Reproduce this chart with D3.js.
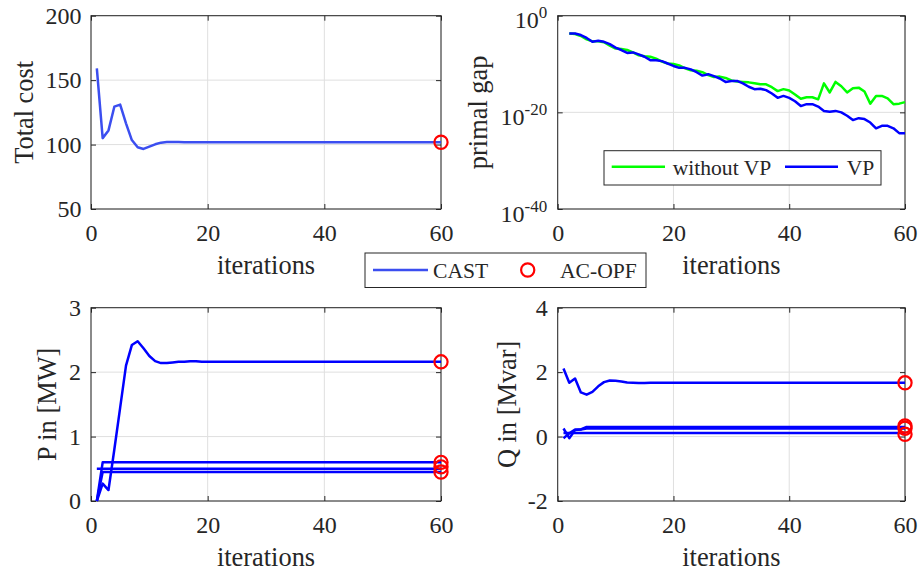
<!DOCTYPE html>
<html>
<head>
<meta charset="utf-8">
<script src="https://cdn.jsdelivr.net/npm/d3@7"></script>
<style>
  body { margin: 0; background: #fff; }
  svg { display: block; }
  text { font-family: "Liberation Serif", "Times New Roman", serif; fill: #262626; }
</style>
</head>
<body>
<svg id="fig" width="923" height="576"></svg>
<script>
// ---------- data ----------
const iterations = d3.range(1, 61);            // iteration index 1..60
const gapIterations = d3.range(2, 61);         // primal gap is logged from iteration 2
const xTicks = [0, 20, 40, 60];

// total cost of the CAST iterates
const totalCost = [
  159.2, 105.0, 111.0, 129.4, 131.0, 116.5, 103.5, 97.9, 96.6, 98.4,
  100.2, 101.5, 101.9, 102.0, 101.9, 101.8, 101.8, 101.8, 101.8, 101.8,
  101.8, 101.8, 101.8, 101.8, 101.8, 101.8, 101.8, 101.8, 101.8, 101.8,
  101.8, 101.8, 101.8, 101.8, 101.8, 101.8, 101.8, 101.8, 101.8, 101.8,
  101.8, 101.8, 101.8, 101.8, 101.8, 101.8, 101.8, 101.8, 101.8, 101.8,
  101.8, 101.8, 101.8, 101.8, 101.8, 101.8, 101.8, 101.8, 101.8, 101.8
];
const costOPF = [101.8];
const costTicks = [50, 100, 150, 200];

// primal gap, iterations 2..60
const gapNoVP = [
  2.0e-4, 1.6e-4, 6.3e-5, 1.3e-5, 5.0e-6, 5.0e-6, 3.2e-6, 6.3e-7, 1.6e-7,
  1.3e-7, 7.9e-8, 2.5e-8, 6.3e-9, 4.0e-9, 3.2e-9, 1.3e-9, 3.2e-10, 1.3e-10, 1.0e-10,
  5.0e-11, 1.3e-11, 5.0e-12, 4.0e-12, 2.0e-12, 5.0e-13, 2.0e-13, 2.5e-13, 1.3e-13, 4.0e-14,
  2.5e-14, 2.0e-14, 1.6e-14, 1.0e-14, 6.3e-15, 6.3e-15, 1.6e-15, 2.5e-16, 6.3e-16, 3.2e-16,
  5.0e-17, 6.3e-18, 1.3e-17, 1.3e-17, 5.0e-18, 1.0e-14, 1.3e-16, 2.0e-14, 2.5e-15, 1.3e-16,
  1.0e-15, 1.3e-15, 2.0e-16, 6.3e-19, 2.5e-17, 2.5e-17, 7.9e-18, 5.0e-19, 6.3e-19, 1.3e-18
];
const gapVP = [
  2.0e-4, 2.0e-4, 1.0e-4, 2.5e-5, 4.0e-6, 6.3e-6, 4.0e-6, 1.3e-6, 2.5e-7,
  7.9e-8, 2.0e-8, 2.5e-8, 1.0e-8, 3.2e-9, 6.3e-10, 6.3e-10, 4.0e-10, 1.3e-10, 4.0e-11,
  1.6e-11, 1.6e-11, 7.9e-12, 2.0e-12, 4.0e-13, 7.9e-13, 3.2e-13, 1.0e-13, 2.0e-14, 3.2e-14,
  3.2e-14, 1.0e-14, 2.0e-15, 6.3e-16, 7.9e-16, 4.0e-16, 7.9e-17, 1.0e-17, 2.5e-17, 1.0e-17,
  2.0e-18, 2.0e-19, 5.0e-19, 5.0e-19, 1.6e-19, 2.0e-20, 1.3e-20, 2.0e-20, 1.0e-20, 2.0e-21,
  2.5e-22, 6.3e-22, 4.0e-22, 7.9e-23, 5.0e-24, 1.6e-23, 1.6e-23, 5.0e-24, 5.0e-25, 5.0e-25
];
const gapTicks = [1e-40, 1e-20, 1e0];
const gapTickExponents = ["-40", "-20", "0"];

// active power injections [MW]
const pGen1 = [
  0.00, 0.27, 0.17, 0.80, 1.45, 2.10, 2.42, 2.48, 2.37, 2.25,
  2.17, 2.14, 2.14, 2.15, 2.16, 2.16, 2.17, 2.17, 2.16, 2.16,
  2.16, 2.16, 2.16, 2.16, 2.16, 2.16, 2.16, 2.16, 2.16, 2.16,
  2.16, 2.16, 2.16, 2.16, 2.16, 2.16, 2.16, 2.16, 2.16, 2.16,
  2.16, 2.16, 2.16, 2.16, 2.16, 2.16, 2.16, 2.16, 2.16, 2.16,
  2.16, 2.16, 2.16, 2.16, 2.16, 2.16, 2.16, 2.16, 2.16, 2.16
];
const pGen2 = [
  0.00, 0.60, 0.60, 0.60, 0.60, 0.60, 0.60, 0.60, 0.60, 0.60,
  0.60, 0.60, 0.60, 0.60, 0.60, 0.60, 0.60, 0.60, 0.60, 0.60,
  0.60, 0.60, 0.60, 0.60, 0.60, 0.60, 0.60, 0.60, 0.60, 0.60,
  0.60, 0.60, 0.60, 0.60, 0.60, 0.60, 0.60, 0.60, 0.60, 0.60,
  0.60, 0.60, 0.60, 0.60, 0.60, 0.60, 0.60, 0.60, 0.60, 0.60,
  0.60, 0.60, 0.60, 0.60, 0.60, 0.60, 0.60, 0.60, 0.60, 0.60
];
const pGen3 = [
  0.50, 0.50, 0.50, 0.50, 0.50, 0.50, 0.50, 0.50, 0.50, 0.50,
  0.50, 0.50, 0.50, 0.50, 0.50, 0.50, 0.50, 0.50, 0.50, 0.50,
  0.50, 0.50, 0.50, 0.50, 0.50, 0.50, 0.50, 0.50, 0.50, 0.50,
  0.50, 0.50, 0.50, 0.50, 0.50, 0.50, 0.50, 0.50, 0.50, 0.50,
  0.50, 0.50, 0.50, 0.50, 0.50, 0.50, 0.50, 0.50, 0.50, 0.50,
  0.50, 0.50, 0.50, 0.50, 0.50, 0.50, 0.50, 0.50, 0.50, 0.50
];
const pGen4 = [
  0.00, 0.45, 0.45, 0.45, 0.45, 0.45, 0.45, 0.45, 0.45, 0.45,
  0.45, 0.45, 0.45, 0.45, 0.45, 0.45, 0.45, 0.45, 0.45, 0.45,
  0.45, 0.45, 0.45, 0.45, 0.45, 0.45, 0.45, 0.45, 0.45, 0.45,
  0.45, 0.45, 0.45, 0.45, 0.45, 0.45, 0.45, 0.45, 0.45, 0.45,
  0.45, 0.45, 0.45, 0.45, 0.45, 0.45, 0.45, 0.45, 0.45, 0.45,
  0.45, 0.45, 0.45, 0.45, 0.45, 0.45, 0.45, 0.45, 0.45, 0.45
];
const pOPF = [2.16, 0.60, 0.53, 0.45];
const pTicks = [0, 1, 2, 3];

// reactive power injections [Mvar]
const qGen1 = [
  2.11, 1.67, 1.80, 1.37, 1.30, 1.39, 1.56, 1.69, 1.74, 1.73,
  1.71, 1.68, 1.67, 1.66, 1.66, 1.67, 1.67, 1.67, 1.67, 1.67,
  1.67, 1.67, 1.67, 1.67, 1.67, 1.67, 1.67, 1.67, 1.67, 1.67,
  1.67, 1.67, 1.67, 1.67, 1.67, 1.67, 1.67, 1.67, 1.67, 1.67,
  1.67, 1.67, 1.67, 1.67, 1.67, 1.67, 1.67, 1.67, 1.67, 1.67,
  1.67, 1.67, 1.67, 1.67, 1.67, 1.67, 1.67, 1.67, 1.67, 1.67
];
const qGen2 = [
  0.25, -0.05, 0.20, 0.22, 0.30, 0.30, 0.30, 0.30, 0.30, 0.30,
  0.30, 0.30, 0.30, 0.30, 0.30, 0.30, 0.30, 0.30, 0.30, 0.30,
  0.30, 0.30, 0.30, 0.30, 0.30, 0.30, 0.30, 0.30, 0.30, 0.30,
  0.30, 0.30, 0.30, 0.30, 0.30, 0.30, 0.30, 0.30, 0.30, 0.30,
  0.30, 0.30, 0.30, 0.30, 0.30, 0.30, 0.30, 0.30, 0.30, 0.30,
  0.30, 0.30, 0.30, 0.30, 0.30, 0.30, 0.30, 0.30, 0.30, 0.30
];
const qGen3 = [
  -0.05, 0.10, 0.22, 0.22, 0.25, 0.25, 0.25, 0.25, 0.25, 0.25,
  0.25, 0.25, 0.25, 0.25, 0.25, 0.25, 0.25, 0.25, 0.25, 0.25,
  0.25, 0.25, 0.25, 0.25, 0.25, 0.25, 0.25, 0.25, 0.25, 0.25,
  0.25, 0.25, 0.25, 0.25, 0.25, 0.25, 0.25, 0.25, 0.25, 0.25,
  0.25, 0.25, 0.25, 0.25, 0.25, 0.25, 0.25, 0.25, 0.25, 0.25,
  0.25, 0.25, 0.25, 0.25, 0.25, 0.25, 0.25, 0.25, 0.25, 0.25
];
const qGen4 = [
  0.11, 0.11, 0.11, 0.11, 0.11, 0.11, 0.11, 0.11, 0.11, 0.11,
  0.11, 0.11, 0.11, 0.11, 0.11, 0.11, 0.11, 0.11, 0.11, 0.11,
  0.11, 0.11, 0.11, 0.11, 0.11, 0.11, 0.11, 0.11, 0.11, 0.11,
  0.11, 0.11, 0.11, 0.11, 0.11, 0.11, 0.11, 0.11, 0.11, 0.11,
  0.11, 0.11, 0.11, 0.11, 0.11, 0.11, 0.11, 0.11, 0.11, 0.11,
  0.11, 0.11, 0.11, 0.11, 0.11, 0.11, 0.11, 0.11, 0.11, 0.11
];
const qOPF = [1.67, 0.33, 0.26, 0.07];
const qTicks = [-2, 0, 2, 4];

// ---------- styling ----------
const AXIS = "#262626";
const GRID = "#dfdfdf";
const CAST_BLUE = "#3b4ef0";
const BLUE = "#0000ff";
const GREEN = "#00ff00";
const RED = "#ff0000";
const TICK_FS = 24;
const LABEL_FS = 26.4;
const LEGEND_FS = 21.6;

const svg = d3.select("#fig");

function makePanel(opt) {
  const g = svg.append("g");
  const x = d3.scaleLinear().domain([0, 60]).range([opt.left, opt.right]);
  const y = opt.yScale.range([opt.bottom, opt.top]);

  // grid
  g.append("g").selectAll("line").data(xTicks).join("line")
    .attr("x1", d => x(d)).attr("x2", d => x(d))
    .attr("y1", opt.top).attr("y2", opt.bottom)
    .attr("stroke", GRID).attr("stroke-width", 1);
  g.append("g").selectAll("line").data(opt.yTicks).join("line")
    .attr("x1", opt.left).attr("x2", opt.right)
    .attr("y1", d => y(d)).attr("y2", d => y(d))
    .attr("stroke", GRID).attr("stroke-width", 1);

  // axes with inward ticks on all four sides
  const style = sel => {
    sel.attr("font-size", TICK_FS).attr("color", AXIS);
    sel.select(".domain").remove();
    sel.selectAll(".tick line").attr("stroke-width", 1);
  };
  g.append("g").attr("transform", `translate(0,${opt.bottom})`)
    .call(d3.axisBottom(x).tickValues(xTicks).tickSizeInner(-5).tickSizeOuter(0).tickPadding(14.5))
    .call(style);
  g.append("g").attr("transform", `translate(0,${opt.top})`)
    .call(d3.axisTop(x).tickValues(xTicks).tickSizeInner(-5).tickSizeOuter(0).tickFormat(""))
    .call(style);
  const yAxis = g.append("g").attr("transform", `translate(${opt.left},0)`)
    .call(d3.axisLeft(y).tickValues(opt.yTicks).tickSizeInner(-5).tickSizeOuter(0)
      .tickPadding(opt.yPad).tickFormat(opt.yFormat || (d => String(d).replace("\u2212", "-"))))
    .call(style);
  g.append("g").attr("transform", `translate(${opt.right},0)`)
    .call(d3.axisRight(y).tickValues(opt.yTicks).tickSizeInner(-5).tickSizeOuter(0).tickFormat(""))
    .call(style);

  // box
  g.append("rect")
    .attr("x", opt.left).attr("y", opt.top)
    .attr("width", opt.right - opt.left).attr("height", opt.bottom - opt.top)
    .attr("fill", "none").attr("stroke", AXIS).attr("stroke-width", 1);

  // axis labels
  g.append("text")
    .attr("x", (opt.left + opt.right) / 2).attr("y", opt.bottom + 65)
    .attr("text-anchor", "middle").attr("font-size", LABEL_FS)
    .text("iterations");
  g.append("text")
    .attr("transform", `translate(${opt.yLabelX},${(opt.top + opt.bottom) / 2}) rotate(-90)`)
    .attr("text-anchor", "middle").attr("font-size", LABEL_FS)
    .text(opt.yLabel);

  return { g, x, y, yAxis };
}

function drawSeries(p, xs, values, color, width) {
  const line = d3.line().x((d, i) => p.x(xs[i])).y(d => p.y(d));
  p.g.append("path").datum(values)
    .attr("d", line).attr("fill", "none")
    .attr("stroke", color).attr("stroke-width", width)
    .attr("stroke-linejoin", "round").attr("stroke-linecap", "butt");
}

function drawOPF(p, values) {
  p.g.append("g").selectAll("circle").data(values).join("circle")
    .attr("cx", p.x(60)).attr("cy", d => p.y(d)).attr("r", 6.6)
    .attr("fill", "none").attr("stroke", RED).attr("stroke-width", 2.2);
}

// ---------- top-left: total cost ----------
const pCost = makePanel({
  left: 91, right: 441, top: 15.7, bottom: 209,
  yScale: d3.scaleLinear().domain([50, 200]), yTicks: costTicks,
  yPad: 9.5, yLabel: "Total cost", yLabelX: 33
});
drawSeries(pCost, iterations, totalCost, CAST_BLUE, 2.5);
drawOPF(pCost, costOPF);

// ---------- top-right: primal gap (log) ----------
const pGap = makePanel({
  left: 557.7, right: 905, top: 15.7, bottom: 209,
  yScale: d3.scaleLog().domain([1e-40, 1]), yTicks: gapTicks,
  yPad: 10.5, yLabel: "primal gap", yLabelX: 487,
  yFormat: () => ""
});
pGap.yAxis.selectAll(".tick text").each(function (d, i) {
  const t = d3.select(this).attr("dy", "0.5em");
  t.text(null);
  t.append("tspan").text("10");
  t.append("tspan").attr("dy", -10).attr("font-size", 17).text(gapTickExponents[i]);
});
drawSeries(pGap, gapIterations, gapNoVP, GREEN, 2.5);
drawSeries(pGap, gapIterations, gapVP, BLUE, 2.5);

// inner legend
const lg = pGap.g.append("g");
lg.append("rect").attr("x", 604).attr("y", 150.7).attr("width", 277).attr("height", 34.3)
  .attr("fill", "#fff").attr("stroke", AXIS).attr("stroke-width", 1);
lg.append("line").attr("x1", 611.7).attr("x2", 665).attr("y1", 166.7).attr("y2", 166.7)
  .attr("stroke", GREEN).attr("stroke-width", 2.5);
lg.append("text").attr("x", 672.7).attr("y", 175).attr("font-size", LEGEND_FS).text("without VP");
lg.append("line").attr("x1", 785).attr("x2", 838).attr("y1", 166.7).attr("y2", 166.7)
  .attr("stroke", BLUE).attr("stroke-width", 2.5);
lg.append("text").attr("x", 846.7).attr("y", 175).attr("font-size", LEGEND_FS).text("VP");

// ---------- bottom-left: P in [MW] ----------
const pP = makePanel({
  left: 91, right: 441, top: 307.7, bottom: 501,
  yScale: d3.scaleLinear().domain([0, 3]), yTicks: pTicks,
  yPad: 10, yLabel: "P in [MW]", yLabelX: 56
});
[pGen1, pGen2, pGen3, pGen4].forEach(s => drawSeries(pP, iterations, s, BLUE, 2.5));
drawOPF(pP, pOPF);

// ---------- bottom-right: Q in [Mvar] ----------
const pQ = makePanel({
  left: 557.7, right: 905, top: 307.7, bottom: 501,
  yScale: d3.scaleLinear().domain([-2, 4]), yTicks: qTicks,
  yPad: 10, yLabel: "Q in [Mvar]", yLabelX: 515.5
});
[qGen1, qGen2, qGen3, qGen4].forEach(s => drawSeries(pQ, iterations, s, BLUE, 2.5));
drawOPF(pQ, qOPF);

// ---------- shared legend ----------
const leg = svg.append("g");
leg.append("rect").attr("x", 365).attr("y", 253).attr("width", 281).attr("height", 34.5)
  .attr("fill", "#fff").attr("stroke", AXIS).attr("stroke-width", 1);
leg.append("line").attr("x1", 373).attr("x2", 428).attr("y1", 270).attr("y2", 270)
  .attr("stroke", CAST_BLUE).attr("stroke-width", 2.5);
leg.append("text").attr("x", 433).attr("y", 278).attr("font-size", LEGEND_FS).text("CAST");
leg.append("circle").attr("cx", 527.7).attr("cy", 270).attr("r", 6.6)
  .attr("fill", "none").attr("stroke", RED).attr("stroke-width", 2.2);
leg.append("text").attr("x", 560).attr("y", 278).attr("font-size", LEGEND_FS).text("AC-OPF");
</script>
</body>
</html>
